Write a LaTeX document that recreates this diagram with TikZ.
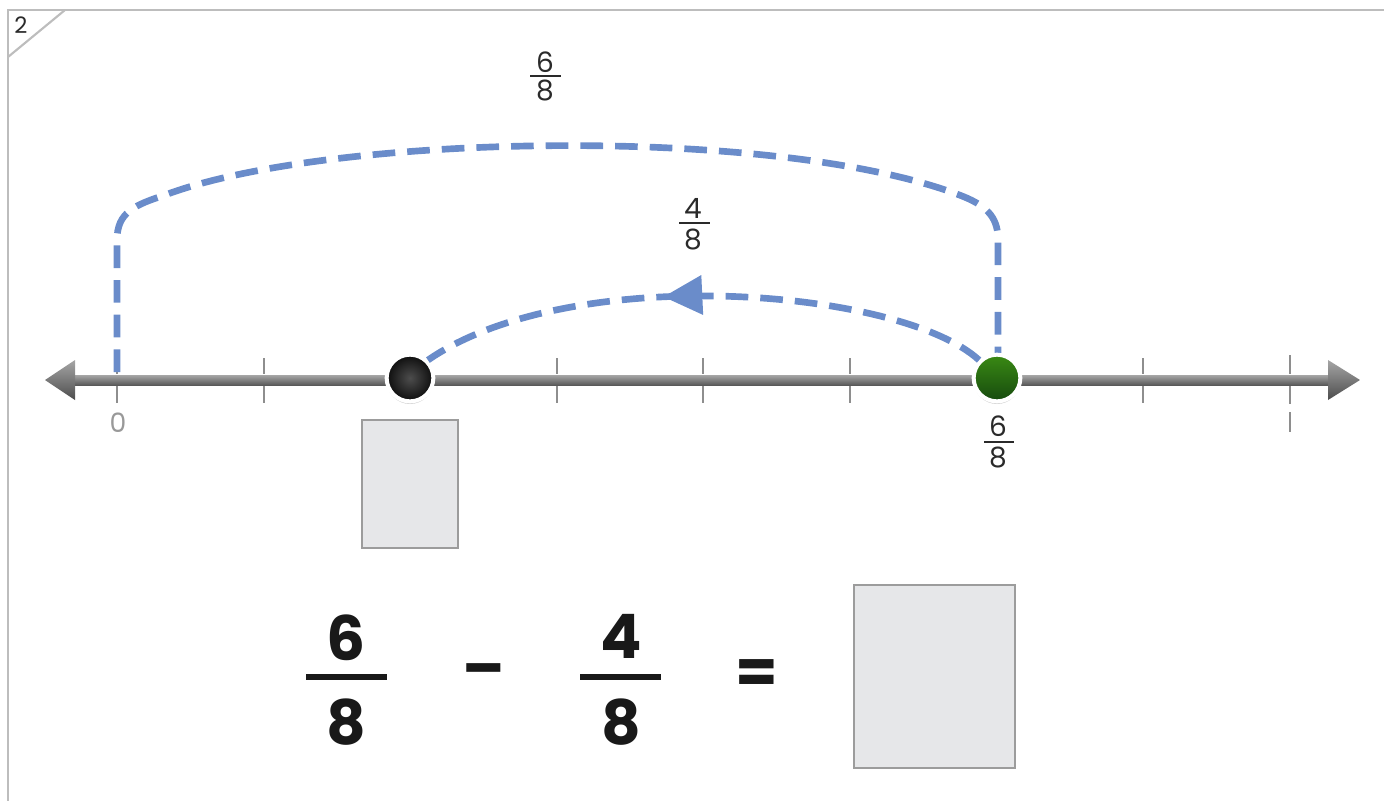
\documentclass[tikz,border=0pt]{standalone}
\usepackage{fontspec}
\setmainfont{Poppins}
\usetikzlibrary{arrows.meta,decorations.markings,shadows}
\definecolor{frameg}{HTML}{BDBDBD}
\definecolor{dashblue}{HTML}{6A8CCA}
\definecolor{boxfill}{HTML}{E6E7E9}
\definecolor{boxline}{HTML}{9C9C9C}
\definecolor{tickg}{HTML}{8E8E8E}
\definecolor{txt}{HTML}{2A2A2A}
\definecolor{lbl}{HTML}{999999}
\definecolor{gtop}{HTML}{3A8A14}
\definecolor{gbot}{HTML}{164A0E}
\tikzset{
  frameline/.style={draw=frameg,line width=2.2pt},
  dashpath/.style={draw=dashblue,line width=5pt,dash pattern=on 17pt off 9pt},
  tickmark/.style={draw=tickg,line width=1.4pt},
  answerbox/.style={draw=boxline,fill=boxfill,line width=1.5pt},
  smalltxt/.style={text=txt,font=\fontsize{21}{22}\selectfont,inner sep=0pt},
  bigtxt/.style={text=black!90,font=\bfseries\fontsize{46}{48}\selectfont,inner sep=0pt},
  dot/.style={circle,draw=white,line width=3pt,minimum size=35pt,inner sep=0pt,
    drop shadow={shadow xshift=0pt,shadow yshift=-2pt,opacity=0.35}},
}
\begin{document}
\begin{tikzpicture}[x=0.75pt,y=-0.75pt]
\useasboundingbox (0,0) rectangle (1384,801);
% frame
\draw[frameline] (1384,10) -- (8,10) -- (8,801);
\draw[draw=frameg,line width=1.6pt] (65,10) -- (8,57);
\node[text=txt,font=\fontsize{17}{18}\selectfont,inner sep=0pt] (qnum) at (21,25) {2};
% number line bar
\shade[top color=gray!70,bottom color=black!65] (74,375) rectangle (1330,385);
\shade[top color=gray!70,bottom color=black!70] (45,380) -- (75,360) -- (75,400) -- cycle;
\shade[top color=gray!70,bottom color=black!70] (1360,380) -- (1328,360) -- (1328,400) -- cycle;
% ticks
\foreach \i/\x in {0/117,1/263.6,2/410.2,3/556.8,4/703.4,5/850,6/996.6,7/1143.2} {
  \coordinate (t\i) at (\x,380);
  \draw[tickmark] (\x,358) -- (\x,374);
  \draw[tickmark] (\x,386) -- (\x,403);
}
\coordinate (t8) at (1290,380);
\draw[tickmark] (1290,355) -- (1290,374);
\draw[tickmark] (1290,386) -- (1290,404);
\draw[tickmark] (1290,412) -- (1290,432);
\node[text=lbl,font=\fontsize{20}{21}\selectfont,inner sep=0pt] (zero) at (118,423) {0};
% big dashed arc 0 -> 6/8
\coordinate (zs) at (117,372);
\draw[dashpath] (zs) -- (117,240) .. controls (117,212) and (135,205) .. (165,195)
  .. controls (330,133) and (780,125) .. (962,196) .. controls (990,207) and (998,220) .. (998,240) -- (998,356);
\node[smalltxt] (n1) at (545,62) {6};
\draw[draw=txt,line width=1.2pt] (530,76) -- (561,76);
\node[smalltxt] (d1) at (545,90) {8};
% dots
\node[dot,shading=radial,inner color=gray!60!black,outer color=black!95] (bdot) at (410,378) {};
\node[dot,top color=gtop,bottom color=gbot] (gdot) at (997,378) {};
% small dashed arc with arrow
\draw[dashpath,postaction={decorate},decoration={markings,mark=at position 0.57 with {\arrow[dashblue,line width=0pt]{Triangle[length=29pt,width=30pt]}}}]
  (gdot.north west) .. controls (900,288) and (570,262) .. (bdot.north east);
\node[smalltxt] (n2) at (693,208) {4};
\draw[draw=txt,line width=1.2pt] (679,223) -- (710,223);
\node[smalltxt] (d2) at (693,239) {8};
% label under green
\node[smalltxt] (n3) at (998,426) {6};
\draw[draw=txt,line width=1.2pt] (984,442) -- (1014,442);
\node[smalltxt] (d3) at (998,457) {8};
% answer box under black dot
\node[answerbox,minimum width=72pt,minimum height=96pt,inner sep=0pt] (box1) at (410,484) {};
% equation
\node[bigtxt] (en1) at (346,638) {6};
\draw[line width=4.6pt,black!90] (306,677) -- (387,677);
\node[bigtxt] (ed1) at (346,722) {8};
\node[bigtxt] (minus) at (484,677) {–};
\node[bigtxt] (en2) at (621,636) {4};
\draw[line width=4.6pt,black!90] (580,677) -- (661,677);
\node[bigtxt] (ed2) at (621,722) {8};
\node[bigtxt] (eq) at (757,677) {=};
\node[answerbox,minimum width=120.5pt,minimum height=137pt,inner sep=0pt] (box2) at (934.5,676.5) {};
\end{tikzpicture}
\end{document}
